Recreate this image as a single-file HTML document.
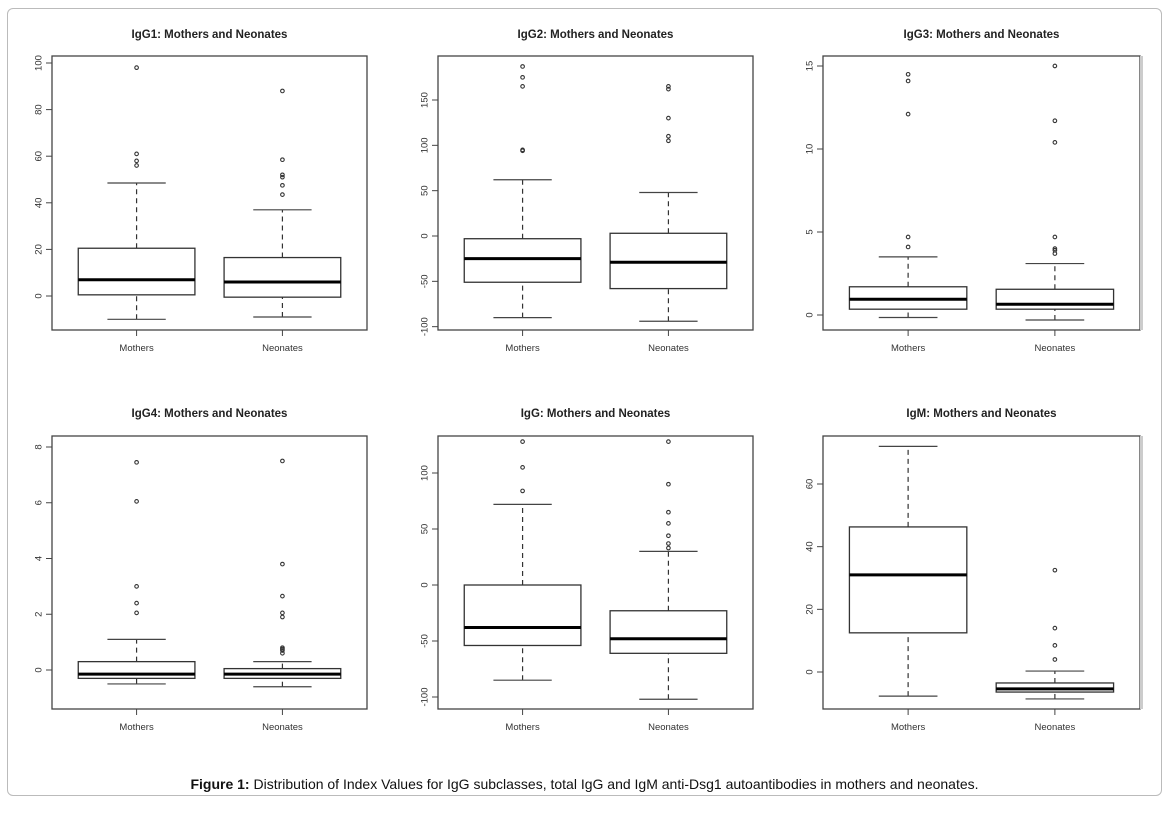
<!DOCTYPE html>
<html><head><meta charset="utf-8"><style>
body{margin:0;background:#fff;width:1169px;height:813px;overflow:hidden;font-family:"Liberation Sans",sans-serif}
#frame{position:absolute;left:7px;top:8px;width:1153px;height:786px;border:1px solid #bbb;border-radius:6px}
#cap{position:absolute;left:0;width:1169px;top:776px;text-align:center;font-size:14px;color:#111}
</style></head><body>
<div id="frame"></div>
<svg id="chart" width="1169" height="813" style="position:absolute;left:0;top:0"></svg>
<div id="cap"><b>Figure 1:</b> Distribution of Index Values for IgG subclasses, total IgG and IgM anti-Dsg1 autoantibodies in mothers and neonates.</div>
<script>
const categories=["Mothers","Neonates"];
const titles=["IgG1: Mothers and Neonates","IgG2: Mothers and Neonates","IgG3: Mothers and Neonates","IgG4: Mothers and Neonates","IgG: Mothers and Neonates","IgM: Mothers and Neonates"];
// [lowWhisker,q1,median,q3,highWhisker]
const statsIgG1=[[-10,0.5,7,20.5,48.5],[-9,-0.5,6,16.5,37]];
const outIgG1=[[56,58,61,98],[43.5,47.5,51,52,58.5,88]];
const statsIgG2=[[-90,-51,-25,-3,62],[-94,-58,-29,3,48]];
const outIgG2=[[94,95,165,175,187],[105,110,130,162,165]];
const statsIgG3=[[-0.15,0.35,0.95,1.7,3.5],[-0.3,0.35,0.65,1.55,3.1]];
const outIgG3=[[4.1,4.7,12.1,14.1,14.5],[3.7,3.9,4.0,4.7,10.4,11.7,15]];
const statsIgG4=[[-0.5,-0.3,-0.15,0.3,1.1],[-0.6,-0.3,-0.15,0.05,0.3]];
const outIgG4=[[2.05,2.4,3.0,6.05,7.45],[0.6,0.7,0.75,0.8,1.9,2.05,2.65,3.8,7.5]];
const statsIgG=[[-85,-54,-38,0,72],[-102,-61,-48,-23,30]];
const outIgG=[[84,105,128],[33,37,44,55,65,90,128]];
const statsIgM=[[-7.7,12.5,31,46.3,72],[-8.6,-6.4,-5.4,-3.5,0.3]];
const outIgM=[[],[4,8.5,14,32.5]];
const ticksIgG1=[0,20,40,60,80,100];
const ticksIgG2=[-100,-50,0,50,100,150];
const ticksIgG3=[0,5,10,15];
const ticksIgG4=[0,2,4,6,8];
const ticksIgG=[-100,-50,0,50,100];
const ticksIgM=[0,20,40,60];

const panels=[
 {x0:52,x1:367,y0:56,y1:330,ty:34,cal:[0,296,100,63],s:statsIgG1,o:outIgG1,t:ticksIgG1},
 {x0:438,x1:753,y0:56,y1:330,ty:34,cal:[0,236,150,100],s:statsIgG2,o:outIgG2,t:ticksIgG2},
 {x0:823,x1:1140,y0:56,y1:330,ty:34,cal:[0,315,15,66],s:statsIgG3,o:outIgG3,t:ticksIgG3,gray:true},
 {x0:52,x1:367,y0:436,y1:709,ty:413,cal:[0,670,8,447],s:statsIgG4,o:outIgG4,t:ticksIgG4},
 {x0:438,x1:753,y0:436,y1:709,ty:413,cal:[-100,697,100,473],s:statsIgG,o:outIgG,t:ticksIgG},
 {x0:823,x1:1140,y0:436,y1:709,ty:413,cal:[0,672,60,484],s:statsIgM,o:outIgM,t:ticksIgM,gray:true}
];
const svg=document.getElementById('chart');
const NS='http://www.w3.org/2000/svg';
function mk(tag,attrs,parent){const e=document.createElementNS(NS,tag);for(const k in attrs)e.setAttribute(k,attrs[k]);(parent||svg).appendChild(e);return e;}
panels.forEach((p,pi)=>{
 const g=mk('g',{});
 
 
 const [v0,py0,v1,py1]=p.cal;
 const y=v=>py0+(v-v0)*(py1-py0)/(v1-v0);
 const w=p.x1-p.x0;
 const x=c=>p.x0+(c+1-0.42)/2.16*w;
 const hw=0.4/2.16*w;
 const tt=mk('text',{x:(p.x0+p.x1)/2,y:p.ty+4,'text-anchor':'middle','font-size':'11.5','font-weight':'bold',fill:'#222'},g);
 tt.textContent=titles[pi];
 
 
 const fr=mk('rect',{x:p.x0,y:p.y0,width:w,height:p.y1-p.y0,fill:'none',stroke:'#444','stroke-width':1.3},g);
 
 
 if(p.gray){mk('line',{x1:p.x1+1.5,x2:p.x1+1.5,y1:p.y0,y2:p.y1,stroke:'#ccc','stroke-width':3},g);}
 p.t.forEach(t=>{
  const yy=y(t);
  mk('line',{x1:p.x0-6,x2:p.x0,y1:yy,y2:yy,stroke:'#444'},g);
  const lx=p.x0-13;
  const tl=mk('text',{x:lx,y:yy,'text-anchor':'middle','font-size':'9.5',fill:'#333',transform:`rotate(-90 ${lx} ${yy})`,'dominant-baseline':'middle'},g);
  tl.textContent=t;
  
  
 });
 categories.forEach((c,ci)=>{
  const cx=x(ci);
  mk('line',{x1:cx,x2:cx,y1:p.y1,y2:p.y1+6,stroke:'#444'},g);
  const xl=mk('text',{x:cx,y:p.y1+21,'text-anchor':'middle','font-size':'9.5',fill:'#333'},g);
  xl.textContent=c;
  
  
  const s=p.s[ci];
  const bg=mk('g',{},g);
  
  
  mk('line',{x1:cx,x2:cx,y1:y(s[0]),y2:y(s[1]),stroke:'#333','stroke-dasharray':'5,4','stroke-width':1.2},bg);
  mk('line',{x1:cx,x2:cx,y1:y(s[3]),y2:y(s[4]),stroke:'#333','stroke-dasharray':'5,4','stroke-width':1.2},bg);
  mk('line',{x1:cx-hw/2,x2:cx+hw/2,y1:y(s[0]),y2:y(s[0]),stroke:'#444','stroke-width':1.2},bg);
  mk('line',{x1:cx-hw/2,x2:cx+hw/2,y1:y(s[4]),y2:y(s[4]),stroke:'#444','stroke-width':1.2},bg);
  mk('rect',{x:cx-hw,y:y(s[3]),width:2*hw,height:y(s[1])-y(s[3]),fill:'#fff',stroke:'#333','stroke-width':1.3},bg);
  mk('line',{x1:cx-hw,x2:cx+hw,y1:y(s[2]),y2:y(s[2]),stroke:'#000','stroke-width':3},bg);
  p.o[ci].forEach(v=>{
   const pt=mk('circle',{cx:cx,cy:y(v),r:1.8,fill:'none',stroke:'#333','stroke-width':1.1},bg);
   
   
  });
 });
});
</script>
</body></html>
